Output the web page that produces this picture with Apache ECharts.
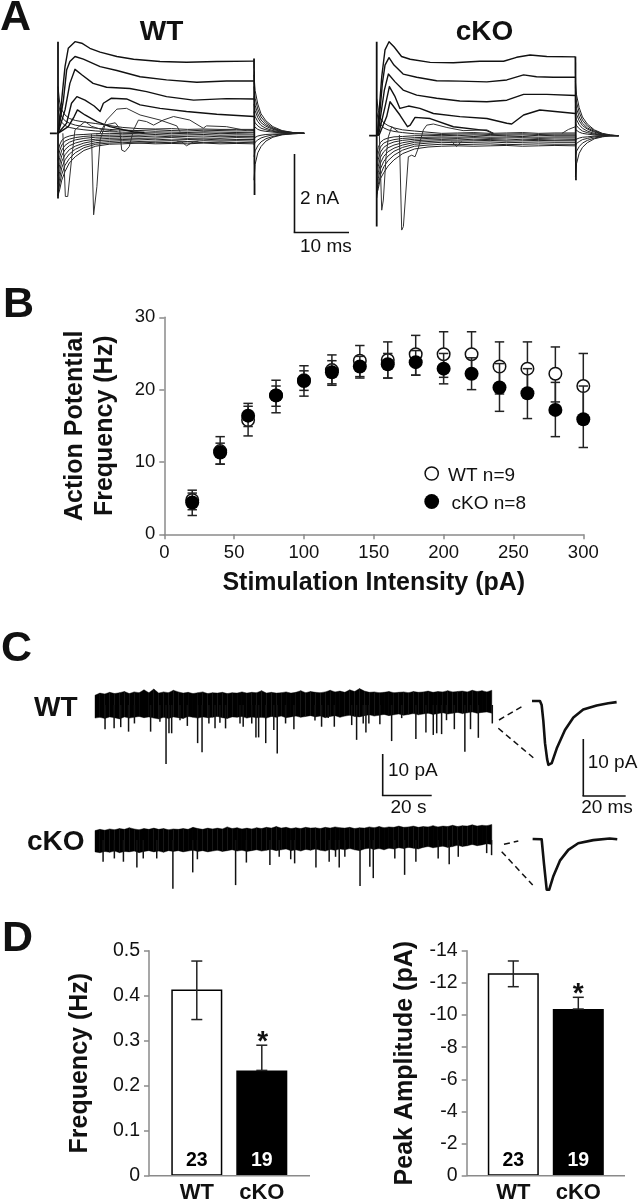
<!DOCTYPE html>
<html><head><meta charset="utf-8">
<script src="https://cdn.jsdelivr.net/npm/echarts@6/dist/echarts.min.js"></script>
<style>html,body{margin:0;padding:0;background:#fff}#c{width:638px;height:1200px}</style>
</head><body><div id="c"></div>
<script>
// ---------- Panel A: current (nA) versus time (ms)
const wtUp1=[[0,0],[.68,.85],[1.3,1.71],[1.9,2.18],[3.15,2.35],[4.4,2.31],[5.9,2.18],[7.8,2.08],[10.9,1.97],[14,1.9],[18.9,1.84],[23.8,1.82],[29.4,1.84],[36.3,1.85]];
const wtUp2=[[0,0],[1,.85],[1.6,1.62],[2.2,1.84],[3.15,1.97],[4.7,1.9],[7.8,1.71],[10.9,1.61],[15.2,1.45],[20.1,1.37],[25.7,1.31],[31.2,1.34],[36.3,1.34]];
const wtUp3=[[0,0],[1.3,.6],[2.2,1.28],[3.15,1.64],[4.4,1.5],[6.5,1.28],[9,1.18],[13.3,1.15],[16.4,1.07],[20.1,.94],[25.1,.85],[31.2,.89],[36.3,.88]];
const wtUp4=[[0,0],[1.6,.26],[2.5,.77],[3.5,.94],[5,.85],[6.7,.7],[7.8,.56],[8.4,.77],[9.9,.9],[12.7,.88],[15.2,.73],[18.9,.64],[23.8,.56],[29.4,.49],[36.3,.43]];
const wtUp5=[[0,0],[1.9,.17],[3,.43],[3.6,.6],[5,.47],[7.2,.3],[9.6,.17],[12.1,.09],[14,.04],[16,.02]];
const wtBump=[[7,-.02],[7.8,0],[9,.34],[10.9,.62],[12.7,.64],[15.2,.47],[18.9,.34],[22,.19],[22.6,.04]];
const wtSpike=[[6.2,-.02],[6.6,-2.09],[7.2,-1.37],[7.8,-.17],[8.7,.21],[10.6,.27],[11.4,.13],[11.8,-.43],[12.4,-.47],[13.2,-.34],[14,.09],[14.9,.34],[16.4,.3],[17.7,.21],[19.5,.34],[21.4,.43],[24.4,.34],[26.9,.13],[27.5,.19],[31.2,.17],[34.9,.07]];
const wtEarly=[[.9,0],[1.36,-1.62],[1.8,-1.62],[2.5,-.68],[3.15,.09],[5,.3],[6.2,.18],[8,.1],[11,.05]];
const wtDip=[[22,-.2],[22.9,-.22],[23.8,-.32],[25.1,-.22],[26,-.2]];
const wtEdges=[[[0,2.35],[0,-1.67]],[[36.3,1.92],[36.4,-1.58]],[[-1.5,0],[-.2,0]]];
const wtBandT=[0,.3,.7,1.3,2.1,3.2,4.8,7,9.5,12,15,18,21,24,27,30,33,36.3];
const wtBand=[
[-1.6,-1.45,-1.2,-.98,-.76,-.6,-.44,-.33,-.28,-.27,-.25,-.27,-.26,-.27,-.25,-.27,-.26,-.27],
[-1.6,-1.3,-1.05,-.82,-.65,-.5,-.37,-.28,-.25,-.23,-.25,-.23,-.24,-.22,-.24,-.23,-.24,-.23],
[-1.5,-1.15,-.88,-.68,-.53,-.41,-.31,-.24,-.21,-.19,-.21,-.2,-.19,-.21,-.19,-.2,-.19,-.2],
[-1.3,-.98,-.72,-.55,-.42,-.33,-.25,-.19,-.17,-.16,-.17,-.15,-.17,-.16,-.15,-.17,-.16,-.16],
[-1.1,-.8,-.57,-.42,-.32,-.25,-.19,-.15,-.13,-.12,-.13,-.12,-.11,-.13,-.12,-.13,-.11,-.12],
[-.9,-.62,-.43,-.31,-.23,-.17,-.13,-.1,-.09,-.08,-.09,-.07,-.09,-.08,-.07,-.09,-.08,-.08],
[-.7,-.45,-.3,-.2,-.15,-.11,-.08,-.06,-.05,-.04,-.05,-.03,-.05,-.04,-.03,-.05,-.04,-.04],
[-.5,-.3,-.18,-.11,-.07,-.04,-.03,-.01,-.01,0,-.01,.01,-.01,0,.01,-.01,0,.01],
[.6,.4,.28,.2,.15,.12,.09,.06,.04,.03,.02,.04,.03,.02,.04,.03,.02,.03],
[.9,.6,.42,.32,.26,.21,.17,.13,.1,.08,.07,.09,.07,.06,.08,.07,.06,.07],
[1.2,.8,.6,.47,.38,.33,.29,.25,.2,.15,.12,.11,.12,.1,.11,.1,.1,.1]];
const wtTailT=[36.3,36.5,37,37.6,38.5,39.8,41.5,43.5,45.6];
const wtTail=[
[1.5,1.1,.75,.5,.32,.17,.07,.02,0],[1.2,.9,.62,.42,.27,.14,.06,.02,0],[.95,.72,.5,.34,.22,.12,.05,.01,0],
[.75,.58,.4,.27,.18,.1,.04,.01,0],[.55,.43,.3,.2,.13,.07,.03,.01,0],[.35,.27,.19,.13,.09,.05,.02,0,0],
[.18,.14,.1,.07,.05,.03,.01,0,0],[-.12,-.09,-.07,-.05,-.03,-.02,-.01,0,0],[-.3,-.23,-.17,-.12,-.08,-.04,-.02,-.01,0],
[-.6,-.45,-.32,-.22,-.14,-.08,-.03,-.01,0],[-1.2,-.8,-.5,-.34,-.2,-.1,-.04,-.01,0]];

const koUp1=[[.1,0],[.93,1.51],[1.54,2.2],[2.28,2.41],[3.2,2.28],[4.6,2.03],[6.2,1.96],[9.9,1.88],[14.2,1.87],[19.1,1.91],[23.5,1.91],[25.9,2.01],[28.4,2.07],[31.5,2.03],[36.8,2.02]];
const koUp2=[[.2,0],[1.05,1.34],[1.54,1.81],[2.28,2],[3.2,1.81],[4.9,1.58],[7.4,1.5],[11.1,1.41],[15.4,1.4],[20.4,1.38],[24.1,1.43],[27.2,1.56],[29.6,1.51],[32.7,1.5],[36.8,1.5]];
const koUp3=[[.2,0],[1.42,1.17],[2.16,1.58],[3.4,1.38],[4.9,1.17],[7.4,1.04],[11.1,.96],[15.4,.89],[20.4,.87],[24.1,.91],[27.2,1.06],[31.5,1.06],[36.8,1.03]];
const koUp4=[[.3,0],[1.54,.74],[2.35,1.26],[3.4,1],[4.3,.7],[5.9,.76],[8,.7],[10.5,.57],[15.4,.49],[20.4,.44],[24.1,.32],[25,.3],[27.2,.53],[30.2,.66],[36.8,.57]];
const koUp5=[[.4,0],[1.85,.49],[2.47,.87],[4.3,.53],[5.7,.23],[6.2,.27],[7.1,.47],[9.9,.44],[14.2,.23],[20.4,.13],[21.6,.06]];
const koSpike=[[4.2,.02],[4.63,-2.42],[4.94,-2.33],[5.86,-.54],[6.48,-.5],[7.1,-.54],[7.7,-.32],[8.64,.15],[9.26,.27],[10.5,.3],[13,.21],[16,.13],[20.4,.15],[21.6,.06]];
const koEarly=[[.5,0],[.93,-1.91],[1.23,-1.65],[1.73,-.54],[2.16,-.03],[2.78,.23],[4,.1]];
const koDip=[[13.9,-.15],[14.8,-.28],[15.7,-.15]];
const koRise=[[34.3,.06],[35.5,.16],[36.8,.23]];
const koEdges=[[[0,2.41],[0,-2.33]],[[36.8,2.03],[36.9,-1.14]],[[-1.4,0],[-.1,0]]];
const koBandT=[0,.3,.7,1.3,2.1,3.2,4.8,7,9.5,12,15,18,21,24,27,30,33,36.8];
const koBand=[
[-1.5,-1.35,-1.1,-.95,-.78,-.62,-.46,-.34,-.29,-.27,-.26,-.27,-.26,-.25,-.27,-.26,-.25,-.26],
[-1.6,-1.25,-1,-.8,-.64,-.5,-.37,-.27,-.24,-.22,-.23,-.22,-.21,-.23,-.22,-.21,-.22,-.22],
[-1.5,-1.1,-.85,-.66,-.52,-.4,-.3,-.22,-.19,-.17,-.18,-.17,-.16,-.18,-.17,-.16,-.17,-.17],
[-1.3,-.95,-.7,-.53,-.41,-.32,-.24,-.17,-.15,-.13,-.14,-.13,-.12,-.14,-.13,-.12,-.13,-.13],
[-1.1,-.78,-.55,-.41,-.31,-.24,-.18,-.13,-.11,-.1,-.11,-.09,-.1,-.11,-.09,-.1,-.11,-.1],
[-.9,-.6,-.42,-.3,-.22,-.16,-.12,-.09,-.07,-.06,-.07,-.05,-.07,-.06,-.05,-.07,-.06,-.06],
[-.7,-.44,-.29,-.19,-.14,-.1,-.07,-.05,-.04,-.03,-.04,-.02,-.04,-.03,-.02,-.04,-.03,-.03],
[-.5,-.3,-.17,-.1,-.06,-.03,-.02,0,0,.01,0,.02,0,.01,.02,0,.01,.01],
[.6,.42,.3,.2,.15,.11,.08,.05,.04,.03,.04,.05,.03,.04,.05,.03,.04,.04],
[.95,.65,.45,.33,.26,.2,.15,.12,.09,.06,.07,.08,.06,.07,.08,.06,.07,.07]];
const koTailT=[36.8,37,37.5,38.1,39,40.3,41.8,43.3,44.8];
const koTail=[
[1.4,1.05,.72,.48,.3,.15,.06,.02,0],[1.15,.86,.6,.4,.25,.13,.05,.01,0],[.92,.7,.48,.32,.2,.11,.04,.01,0],
[.72,.55,.38,.26,.17,.09,.03,.01,0],[.52,.41,.28,.19,.12,.06,.02,0,0],[.33,.26,.18,.12,.08,.04,.01,0,0],
[.16,.13,.09,.06,.04,.02,.01,0,0],[-.1,-.08,-.06,-.04,-.03,-.01,0,0,0],[-.26,-.2,-.15,-.1,-.07,-.03,-.01,0,0],
[-.52,-.4,-.28,-.19,-.12,-.06,-.02,0,0],[-1.05,-.72,-.45,-.3,-.18,-.08,-.03,0,0]];

// ---------- Panel B: action potential frequency
const intensity=[20,40,60,80,100,120,140,160,180,200,220,240,260,280,300];
const wtFreq=[4.75,11.5,15.8,19.2,21.3,22.7,24,24.1,24.9,24.9,24.9,23.2,22.9,22.2,20.5];
const wtHigh=[6.1,13.5,17.7,21.3,23.3,24.8,26.1,26.6,27.5,28,28,26.6,26.6,25.9,25];
const wtLow=[3.4,9.7,13.6,16.8,19.1,20.6,21.8,21.6,22,21.7,22.2,19.4,19.3,18.3,15.9];
const koFreq=[4.4,11.3,16.4,19.2,21.2,22.4,23.2,23.5,23.8,22.9,22.2,20.3,19.5,17.2,15.9];
const koHigh=[5.7,12.6,18.1,20.5,22.6,24,24.6,25,25.4,25,24.4,23.6,22.9,21,20.5];
const koLow=[2.6,9.7,14.9,17.7,19.9,20.8,21.6,21.6,22,20.8,20,17,16,13.5,12];
const xTicksB={min:0,max:300,interval:50};
const yTicksB={min:0,max:30,interval:10};

// ---------- Panel C: spontaneous currents (pA) versus time (s)
const wtNoiseTop=[2.4,2.9,2.7,3.1,2.8,3.0,3.3,2.8,3.2,3.0,3.7,3.0,3.9,2.9,3.2,3.0,3.6,3.2,2.9,3.1,2.8,3.0,3.2,2.8,3.0,2.9,3.1,2.8,3.0,2.9,3.2,2.9,3.1,3.0,3.5,2.9,3.1,2.9,3.0,3.2,2.9,3.1,3.5,3.0,3.3,3.1,3.0,3.2,3.6,3.2,3.4,3.1,3.7,3.3,4.0,3.4,3.1,3.2,3.0,3.1,3.3,3.0,3.1,3.2,3.0,3.3,3.1,3.2,3.4,3.1,3.3,3.2,3.5,3.2,3.3,3.4,3.2,3.6,3.3,3.5,3.2,3.6];
const wtNoiseBottom=[-3.2,-3.0,-3.3,-2.9,-3.1,-3.4,-2.9,-3.2,-3.0,-2.8,-3.1,-2.9,-3.2,-3.4,-3.0,-3.3,-2.9,-3.1,-3.3,-2.8,-3.0,-3.2,-2.9,-3.1,-3.0,-2.8,-3.1,-3.3,-2.9,-3.0,-2.8,-3.2,-2.9,-3.1,-3.0,-3.2,-2.8,-3.0,-2.7,-3.1,-2.9,-2.7,-3.0,-2.8,-2.6,-2.9,-2.7,-3.1,-2.8,-2.6,-3.0,-2.7,-2.5,-2.8,-2.9,-2.6,-2.4,-2.7,-2.5,-2.3,-2.6,-2.4,-2.2,-2.5,-2.3,-2.1,-2.4,-2.2,-2.0,-2.3,-2.1,-1.9,-2.2,-2.0,-1.8,-2.1,-1.9,-1.7,-2.0,-1.8,-1.7,-2.0];
const wtEvents=[[4.1,-5.9],[7.8,-5.7],[10.5,-5.4],[13.7,-6.5],[16.1,-4.5],[22.7,-6.5],[26.5,-4.1],[29,-14.4],[30.2,-6.9],[31.3,-6.9],[34.7,-3.7],[37.7,-5.1],[41.9,-9.3],[43.7,-11.5],[46.5,-4.5],[49,-5.7],[51,-4.3],[53.3,-5.7],[59.2,-4.5],[60.5,-5.3],[64,-4.5],[65.7,-7.9],[66.8,-7.9],[69.7,-9.3],[73,-6.1],[74.4,-11.8],[77.8,-4.5],[81.2,-5.9],[89.8,-3.8],[92.5,-5.3],[95.2,-3.2],[97.7,-5.3],[104.8,-4.9],[106.8,-8.5],[109.5,-4.5],[110.6,-6.7],[111.8,-4.5],[116.3,-4.7],[121.1,-8.8],[125.2,-3.2],[131,-8.3],[135.1,-6.7],[138.1,-7.3],[139.5,-6.9],[141.5,-7.1],[143.5,-3.7],[146.7,-5.9],[151,-11.4],[153.3,-5.9],[156.5,-8],[162.2,-4.5]];
const koNoiseTop=[2.3,2.6,2.4,2.7,2.5,2.8,2.6,3.0,2.7,2.5,2.8,2.6,2.9,2.6,2.8,2.5,2.7,2.6,2.8,2.6,3.1,2.8,2.6,2.9,2.7,2.9,2.7,3.2,2.8,3.0,2.7,2.9,2.7,3.0,2.8,3.1,2.9,3.3,2.9,3.1,2.8,3.0,2.8,3.1,2.9,3.0,2.8,3.1,2.9,3.2,3.0,2.9,3.1,2.8,3.0,2.9,3.2,3.0,3.3,3.0,3.2,3.1,3.4,3.1,3.2,3.4,3.1,3.3,3.2,3.5,3.2,3.4,3.3,3.6,3.3,3.5,3.4,3.7,3.4,3.6,3.5,3.8];
const koNoiseBottom=[-2.9,-3.1,-2.8,-3.0,-2.7,-3.1,-2.8,-2.9,-2.7,-3.1,-2.8,-2.6,-2.9,-2.7,-3.0,-2.6,-2.8,-2.6,-2.9,-2.7,-2.5,-2.8,-2.6,-2.9,-2.7,-2.5,-2.8,-2.6,-2.4,-2.7,-2.5,-2.8,-2.6,-2.4,-2.7,-2.5,-2.3,-2.6,-2.4,-2.2,-2.6,-2.4,-2.7,-2.3,-2.5,-2.2,-2.5,-2.7,-2.3,-2.5,-2.2,-2.4,-2.1,-2.4,-2.6,-2.2,-2.0,-2.3,-2.1,-2.4,-2.0,-2.2,-1.9,-2.1,-1.8,-2.0,-2.2,-1.8,-1.6,-1.9,-1.7,-1.5,-1.8,-1.6,-1.3,-1.6,-1.4,-1.1,-1.4,-1.2,-0.9,-1.1];
const koEvents=[[3.3,-5.3],[7.9,-4.5],[11.6,-5.3],[17.1,-6.7],[19.7,-4.5],[25.2,-4.5],[31.8,-11.9],[39.9,-7.9],[41.8,-4.7],[57.4,-11],[61.8,-5.5],[71.4,-6.1],[75.2,-4.1],[79.9,-4.7],[81.5,-5.7],[90.2,-6.7],[95.6,-5.3],[98.2,-4.1],[99.7,-6.7],[102,-4.1],[108.2,-11.2],[112.2,-6.5],[113.6,-9.3],[122.4,-4.5],[126.4,-8.5],[131,-5.3],[140.1,-4.5],[144.6,-5.9],[148.3,-4.1],[159.9,-3.2],[161.9,-3.7]];
const wtInset=[[0,0],[3.8,0],[4.6,-.7],[5.4,-3.5],[6.2,-7.4],[7.2,-10.2],[7.8,-11.2],[8.6,-11.4],[9.4,-10.9],[11.8,-8.3],[15.7,-5.1],[19.7,-2.9],[24.4,-1.5],[30.8,-.8],[36.3,-.4],[40.3,-.2]];
const koInset=[[.3,0],[4.6,-.05],[5.7,-4.3],[7,-8.9],[7.6,-9.2],[8.2,-8.9],[10.1,-6.6],[13.3,-3.8],[17.3,-1.9],[22,-.75],[29.2,-.2],[37,.1],[40.6,-.05]];

// ---------- Panel D: bars
const groups=['WT','cKO'];
const groupN=['23','19'];
const freqMean=[.414,.234];
const freqHigh=[.477,.29];
const freqLow=[.347,.234];
const ampMean=[-12.6,-10.37];
const ampHigh=[-13.36,-11.1];
const ampLow=[-11.76,-10.37];

const INK='#111', SANS='"Liberation Sans",Arial,sans-serif';
const grids=[], xs=[], ys=[], series=[];
function panel(left,top,width,height,x,y){
  grids.push({left,top,width,height,outerBoundsMode:'none'});
  const i=grids.length-1;
  xs.push(Object.assign({gridIndex:i,type:'value',show:false,scale:true},x));
  ys.push(Object.assign({gridIndex:i,type:'value',show:false,scale:true},y));
  return i;
}
function trace(i,data,width,color){
  series.push({type:'line',xAxisIndex:i,yAxisIndex:i,data,symbol:'none',silent:true,animation:false,clip:false,
    lineStyle:{color:color||INK,width:width||1,join:'round'},z:3});
}
const pair=(T,V)=>T.map((t,k)=>[t,V[k]]);
function ephys(i,ups,extras,edges,bandT,band,tailT,tail){
  band.forEach(v=>trace(i,pair(bandT,v),1,'#222'));
  tail.forEach(v=>trace(i,pair(tailT,v),1,'#222'));
  ups.forEach(v=>trace(i,v,1.4,'#111'));
  extras.forEach(v=>trace(i,v,1,'#333'));
  edges.forEach(v=>trace(i,v,1.8,'#111'));
}
const aX={min:-2,max:46}, aY={min:-3,max:2.6};
const aW=panel(47.2,31.9,259.2,218.4,aX,aY);
const aK=panel(365.9,34.3,259.2,218.4,aX,aY);
ephys(aW,[wtUp1,wtUp2,wtUp3,wtUp4,wtUp5],[wtBump,wtSpike,wtEarly,wtDip],wtEdges,wtBandT,wtBand,wtTailT,wtTail);
ephys(aK,[koUp1,koUp2,koUp3,koUp4,koUp5],[koSpike,koEarly,koDip,koRise],koEdges,koBandT,koBand,koTailT,koTail);

// Panel B axes and marks
const axisLine={show:true,onZero:false,lineStyle:{color:'#8a8a8a',width:1.5}};
const axisTick={show:true,length:5,inside:false,lineStyle:{color:'#8a8a8a',width:1.5}};
const tickText={color:INK,fontFamily:SANS,fontSize:18.5,margin:9};
const titleText={color:INK,fontFamily:SANS,fontWeight:'bold',fontSize:25,lineHeight:30};
const b=panel(164.3,317.3,419,217,
 Object.assign({show:true,position:'bottom',splitLine:{show:false},axisLine,axisTick,axisLabel:tickText,scale:false,
   name:'Stimulation Intensity (pA)',nameLocation:'middle',nameGap:34,nameTextStyle:titleText},xTicksB),
 Object.assign({show:true,position:'left',splitLine:{show:false},axisLine,axisTick,axisLabel:tickText,scale:false,
   name:'Action Potential\nFrequency (Hz)',nameLocation:'middle',nameGap:44,nameTextStyle:titleText},yTicksB));
function whiskers(i,rows,capPx,width,z){
  series.push({type:'custom',xAxisIndex:i,yAxisIndex:i,data:rows,silent:true,animation:false,z:z||4,
    encode:{x:0,y:[1,2]},
    renderItem(p,api){
      const x=api.value(0), lo=api.coord([x,api.value(1)]), hi=api.coord([x,api.value(2)]);
      const st={stroke:'#222',lineWidth:width,fill:null};
      return {type:'group',children:[
        {type:'line',shape:{x1:lo[0],y1:lo[1],x2:hi[0],y2:hi[1]},style:st},
        {type:'line',shape:{x1:lo[0]-capPx,y1:lo[1],x2:lo[0]+capPx,y2:lo[1]},style:st},
        {type:'line',shape:{x1:hi[0]-capPx,y1:hi[1],x2:hi[0]+capPx,y2:hi[1]},style:st}]};
    }});
}
whiskers(b,intensity.map((x,k)=>[x,wtLow[k],wtHigh[k]]),4.7,1.5,4);
series.push({type:'scatter',xAxisIndex:b,yAxisIndex:b,data:pair(intensity,wtFreq),symbol:'circle',symbolSize:12.5,silent:true,animation:false,z:5,
  itemStyle:{color:'#fff',borderColor:'#111',borderWidth:1.5,opacity:1}});
whiskers(b,intensity.map((x,k)=>[x,koLow[k],koHigh[k]]),4.7,1.5,6);
series.push({type:'scatter',xAxisIndex:b,yAxisIndex:b,data:pair(intensity,koFreq),symbol:'circle',symbolSize:14,silent:true,animation:false,z:7,
  itemStyle:{color:'#000',opacity:1}});

// Panel C
function noise(i,top,bottom,events){
  const step=2;
  series.push({type:'custom',xAxisIndex:i,yAxisIndex:i,data:top.map((v,k)=>[k*step,v,bottom[k]]),silent:true,animation:false,clip:false,z:3,
    encode:{x:0,y:[1,2]},
    renderItem(p,api){
      const k=p.dataIndex; if(k>=top.length-1) return null;
      const a=k*step,c=(k+1)*step;
      return {type:'polygon',shape:{points:[api.coord([a,top[k]]),api.coord([c,top[k+1]]),api.coord([c,bottom[k+1]]),api.coord([a,bottom[k]])]},
        style:{fill:'#000',stroke:'#000',lineWidth:.4}};
    }});
  series.push({type:'custom',xAxisIndex:i,yAxisIndex:i,data:events,silent:true,animation:false,clip:false,z:3,
    encode:{x:0,y:1},
    renderItem(p,api){
      const s=api.coord([api.value(0),0]),e=api.coord([api.value(0),api.value(1)]);
      return {type:'line',shape:{x1:s[0],y1:s[1],x2:e[0],y2:e[1]},style:{stroke:'#111',lineWidth:1.5}};
    }});
}
const cX={min:0,max:163.3}, cY={min:-16,max:6};
const cW=panel(95,680.4,400,90.2,cX,cY), cK=panel(95,815.4,400,90.2,cX,cY);
noise(cW,wtNoiseTop,wtNoiseBottom,wtEvents);
noise(cK,koNoiseTop,koNoiseBottom,koEvents);
const iX={min:0,max:42};
const iW=panel(532,695.3,88.2,74.1,iX,{min:-12,max:1});
const iK=panel(532,833.3,88.2,62.7,iX,{min:-10,max:1});
trace(iW,wtInset,2.6,'#111'); trace(iK,koInset,2.6,'#111');

// Panel D
function bars(left,off,means,highs,lows,yCfg,title,gap){
  const yTick={color:INK,fontFamily:SANS,fontSize:19.5,margin:9};
  const i=panel(left,950.7,130,225,
    {show:true,type:'category',data:groups,position:'bottom',axisLine:{show:false,onZero:false},axisTick:{show:false},
     axisLabel:{color:INK,fontFamily:SANS,fontWeight:'bold',fontSize:22,margin:6},scale:false},
    Object.assign({show:true,position:'left',offset:off,splitLine:{show:false},axisLine,axisTick,axisLabel:yTick,scale:false,
      name:title,nameLocation:'middle',nameGap:gap,nameTextStyle:titleText},yCfg));
  series.push({type:'bar',xAxisIndex:i,yAxisIndex:i,barWidth:51,silent:true,animation:false,z:3,
    data:means.map((v,k)=>({value:v,itemStyle:{color:k?'#000':'#fff',borderColor:'#000',borderWidth:1.5},
      label:{show:true,position:'insideBottom',distance:5,formatter:groupN[k],color:k?'#fff':'#000',fontFamily:SANS,fontWeight:'bold',fontSize:19.5}}))});
  return i;
}
const d1=bars(164.3,15.3,freqMean,freqHigh,freqLow,{min:0,max:.5,interval:.1,axisLabel:{color:INK,fontFamily:SANS,fontSize:19.5,margin:9,formatter:v=>v===0?'0':v.toFixed(1)}},'Frequency (Hz)',54);
const d2=bars(480.8,14.1,ampMean,ampHigh,ampLow,{min:-14,max:0,interval:2,inverse:true},'Peak Amplitude (pA)',47);
whiskers(d1,freqMean.map((_,k)=>[k,freqLow[k],freqHigh[k]]),5.5,1.5,5);
whiskers(d2,ampMean.map((_,k)=>[k,ampLow[k],ampHigh[k]]),5.5,1.5,5);

// Annotations
function text(t,x,y,size,bold,align){
  return {type:'text',silent:true,z:20,style:{text:t,x,y,fill:INK,textAlign:align||'left',textVerticalAlign:'middle',
    font:(bold?'bold ':'')+size+'px '+SANS}};
}
function seg(x1,y1,x2,y2,w,col,dash){
  return {type:'line',silent:true,z:20,shape:{x1,y1,x2,y2},style:{stroke:col||'#111',lineWidth:w||1.6,lineDash:dash||null}};
}
const graphic=[
 text('A',0,18,43,true),text('B',3,305,43,true),text('C',1,649,43,true),text('D',2,939,43,true),
 text('WT',161.5,32,28,true,'center'),text('cKO',484.5,32,28,true,'center'),
 text('2 nA',300,199,19),text('10 ms',300,247,19),
 seg(294.5,154,294.5,232.5),seg(293.7,232.5,349,232.5),
 text('WT n=9',448,476,19),text('cKO n=8',451.5,504,19),
 {type:'circle',silent:true,z:20,shape:{cx:431.7,cy:473.5,r:6.6},style:{fill:'#fff',stroke:'#111',lineWidth:1.5}},
 {type:'circle',silent:true,z:20,shape:{cx:431.7,cy:501.5,r:7.4},style:{fill:'#000'}},
 text('WT',34,708,28,true),text('cKO',27,842,28,true),
 seg(382.7,754,382.7,795.5),seg(381.9,795.5,431.7,795.5),text('10 pA',388,771,19),text('20 s',408.5,808,19,false,'center'),
 seg(583.3,739,583.3,796),seg(582.5,796,625.7,796),text('10 pA',587.7,763,19),text('20 ms',607,808,19,false,'center'),
 seg(499,720,521.7,706.7,1.5,'#111',[6,4]),seg(498.3,728.3,533.3,757.7,1.5,'#111',[6,4]),
 seg(504,844.3,518.3,841,1.5,'#111',[6,4]),seg(501.7,851.7,532.7,885,1.5,'#111',[6,4]),
 seg(149,1175.7,310,1175.7,1.5,'#8a8a8a'),seg(466.7,1175.7,625,1175.7,1.5,'#8a8a8a'),
 text('*',262.7,1042,28,true,'center'),text('*',578.3,994,28,true,'center')
];
const chart=echarts.init(document.getElementById('c'),null,{renderer:'canvas'});
chart.setOption({animation:false,backgroundColor:'#fff',tooltip:{show:false},legend:{show:false},grid:grids,xAxis:xs,yAxis:ys,series,graphic});
</script></body></html>
